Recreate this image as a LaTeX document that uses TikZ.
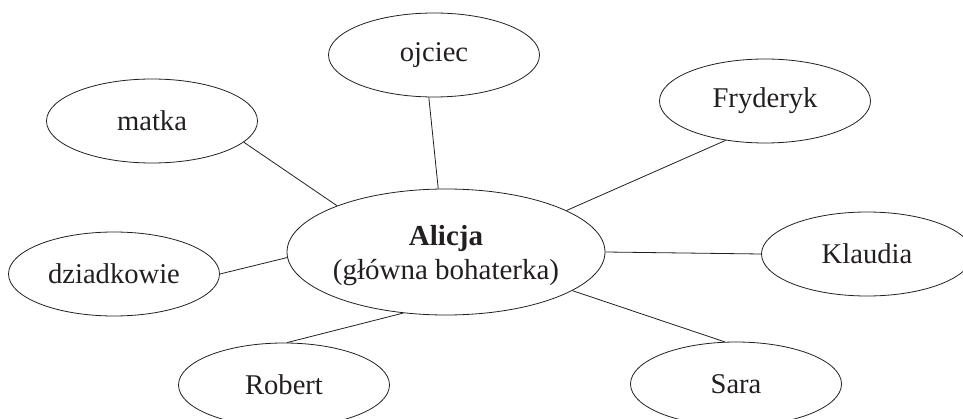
\documentclass[tikz,border=0pt]{standalone}
\usepackage{fontspec}
\setmainfont{Liberation Serif}
\usetikzlibrary{shapes.geometric}
\definecolor{ink}{HTML}{231F20}
\tikzset{
  person/.style={ellipse, draw=ink, line width=0.8pt, text=ink, inner sep=0pt,
    minimum width=211pt, minimum height=84pt, font=\fontsize{28.6}{34}\selectfont},
  hero/.style={ellipse, draw=ink, line width=0.8pt, inner sep=0pt,
    minimum width=318pt, minimum height=126pt},
  herotext/.style={text=ink, inner sep=0pt, align=center,
    font=\fontsize{29}{34}\selectfont},
  link/.style={draw=ink, line width=0.8pt}
}
\begin{document}
\begin{tikzpicture}[x=1pt,y=-1pt]
\useasboundingbox (0,0) rectangle (963,419);
\node[hero] (alicja) at (446,252) {};
\node[herotext] (alicjatext) at (446,256) {\textbf{Alicja}\\(główna bohaterka)};
\node[person] (ojciec) at (434,55) {ojciec};
\node[person] (matka) at (152,121) {matka};
\node[person] (fryderyk) at (765,101) {Fryderyk};
\node[person] (dziadkowie) at (114,274) {dziadkowie};
\node[person] (klaudia) at (867,254) {Klaudia};
\node[person] (robert) at (284,385) {Robert};
\node[person] (sara) at (736,384) {Sara};
\draw[link] (alicja.157) -- (matka.-13);
\draw[link] (alicja.97) -- (ojciec.-97);
\draw[link] (alicja.19) -- (fryderyk.-135);
\draw[link] (alicja.182) -- (dziadkowie.0);
\draw[link] (alicja.0) -- (klaudia.180);
\draw[link] (alicja.235) -- (robert.86);
\draw[link] (alicja.-17) -- (sara.105);
\end{tikzpicture}
\end{document}
